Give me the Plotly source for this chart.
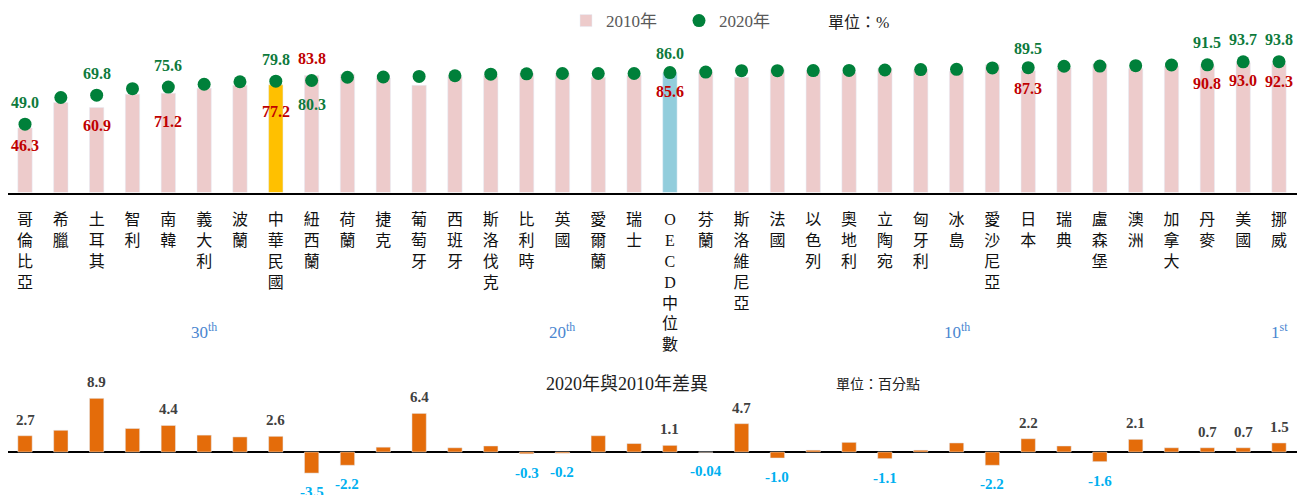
import plotly.graph_objects as go

countries = ["哥倫比亞", "希臘", "土耳其", "智利", "南韓", "義大利", "波蘭", "中華民國", "紐西蘭",
             "荷蘭", "捷克", "葡萄牙", "西班牙", "斯洛伐克", "比利時", "英國", "愛爾蘭", "瑞士",
             "OECD中位數", "芬蘭", "斯洛維尼亞", "法國", "以色列", "奧地利", "立陶宛", "匈牙利",
             "冰島", "愛沙尼亞", "日本", "瑞典", "盧森堡", "澳洲", "加拿大", "丹麥", "美國", "挪威"]

val_2010 = [46.3, 64.5, 60.9, 70.5, 71.2, 74.8, 76.9, 77.2, 83.8, 84.8, 82.0, 76.8, 83.0, 83.8,
            85.4, 85.5, 82.6, 83.9, 85.6, 86.3, 82.6, 88.3, 87.1, 85.9, 88.9, 87.8, 86.8, 91.5,
            87.3, 89.5, 92.2, 88.8, 90.7, 90.8, 93.0, 92.3]

val_2020 = [49.0, 68.1, 69.8, 74.4, 75.6, 77.6, 79.4, 79.8, 80.3, 82.6, 82.8, 83.2, 83.7, 84.8,
            85.1, 85.3, 85.3, 85.3, 86.0, 86.3, 87.3, 87.3, 87.4, 87.5, 87.8, 88.1, 88.3, 89.3,
            89.5, 90.5, 90.6, 90.9, 91.4, 91.5, 93.7, 93.8]

diff = [2.7, 3.6, 8.9, 3.9, 4.4, 2.8, 2.5, 2.6, -3.5, -2.2, 0.8, 6.4, 0.7, 1.0, -0.3, -0.2,
        2.7, 1.4, 1.1, -0.04, 4.7, -1.0, 0.3, 1.6, -1.1, 0.3, 1.5, -2.2, 2.2, 1.0, -1.6, 2.1,
        0.7, 0.7, 0.7, 1.5]

labeled_countries = ["哥倫比亞", "土耳其", "南韓", "中華民國", "紐西蘭", "OECD中位數", "日本",
                     "丹麥", "美國", "挪威"]
diff_labeled = ["哥倫比亞", "土耳其", "南韓", "中華民國", "紐西蘭", "荷蘭", "葡萄牙", "比利時",
                "英國", "OECD中位數", "芬蘭", "斯洛維尼亞", "法國", "立陶宛", "愛沙尼亞", "日本",
                "盧森堡", "澳洲", "丹麥", "美國", "挪威"]
rank_labels = {"義大利": "30<sup>th</sup>", "英國": "20<sup>th</sup>",
               "冰島": "10<sup>th</sup>", "挪威": "1<sup>st</sup>"}

# ---- styles ----
PINK = "#EDCBCB"
HIGHLIGHT = {"中華民國": "#FFC000", "OECD中位數": "#92CDDC"}
GREEN = "#00803A"
GREEN_TXT = "#0E7A3C"
RED_TXT = "#C00000"
ORANGE = "#E46C0A"
NEG_TXT = "#00B0F0"
POS_TXT = "#404040"
RANK_C = "#4A86D0"
SERIF = "Liberation Serif, Noto Sans CJK TC, serif"

green_shift = {"紐西蘭": -24, "OECD中位數": 19, "日本": 19}
red_shift = {"紐西蘭": 17, "南韓": -28, "中華民國": -27}

# page body has an 8px margin: lay out in screen pixels and convert
OFF = 8
W, H = 1306 - OFF, 495 - OFF


def px(x):
    return (x - OFF) / W


def py(y):
    return 1 - (y - OFF) / H


n = len(countries)
first_x, last_x = 25.0, 1279.0
step = (last_x - first_x) / (n - 1)
left_px, right_px = OFF, 1297.0
x_range = [(left_px - first_x) / step, (right_px - first_x) / step]
xdom = [px(left_px), px(right_px)]

top_base = 192.5
scale_top = 1.395
bot_base = 452.0
bot_top = 380.0
scale_bot = 6.03


def vertical(name):
    if name.startswith("OECD"):
        chars = list("OECD") + list(name[4:])
    else:
        chars = list(name)
    return "<br>".join(chars)


bar_colors = [HIGHLIGHT.get(c, PINK) for c in countries]

fig = go.Figure()
fig.add_trace(go.Bar(x=countries, y=val_2010, name="2010年", marker=dict(color=bar_colors),
                     width=0.4, xaxis="x", yaxis="y"))
fig.add_trace(go.Scatter(x=countries, y=val_2020, name="2020年", mode="markers",
                         marker=dict(color=GREEN, size=13), xaxis="x", yaxis="y"))
fig.add_trace(go.Bar(x=countries, y=diff, marker=dict(color=ORANGE), width=0.4,
                     showlegend=False, xaxis="x2", yaxis="y2"))

ann = []
for c, a, b in zip(countries, val_2010, val_2020):
    if c in labeled_countries:
        ann.append(dict(x=c, y=b, xref="x", yref="y", text=f"<b>{b:.1f}</b>", showarrow=False,
                        yshift=green_shift.get(c, 22),
                        font=dict(family=SERIF, size=16, color=GREEN_TXT)))
        ann.append(dict(x=c, y=a, xref="x", yref="y", text=f"<b>{a:.1f}</b>", showarrow=False,
                        yshift=red_shift.get(c, -18),
                        font=dict(family=SERIF, size=16, color=RED_TXT)))

for c, d in zip(countries, diff):
    if c in diff_labeled:
        txt = f"{d:.2f}" if abs(d) < 0.1 else f"{d:.1f}"
        ann.append(dict(x=c, y=d, xref="x2", yref="y2", text=f"<b>{txt}</b>", showarrow=False,
                        yshift=16 if d > 0 else -19,
                        font=dict(family=SERIF, size=15, color=POS_TXT if d > 0 else NEG_TXT)))

for c, t in rank_labels.items():
    ann.append(dict(x=c, y=py(331), xref="x", yref="paper", text=t, showarrow=False,
                    font=dict(family=SERIF, size=17, color=RANK_C)))

ann.append(dict(x=px(826), y=py(12), xref="paper", yref="paper", xanchor="left",
                text="單位：%", showarrow=False,
                font=dict(family=SERIF, size=16, color="#222222")))
ann.append(dict(x=px(627), y=py(396), xref="paper", yref="paper",
                text="2020年與2010年差異", showarrow=False,
                font=dict(family=SERIF, size=18, color="#222222")))
ann.append(dict(x=px(834), y=py(394), xref="paper", yref="paper", xanchor="left",
                text="單位：百分點", showarrow=False,
                font=dict(family=SERIF, size=14, color="#222222")))

fig.update_layout(
    width=W, height=H,
    margin=dict(l=0, r=0, t=0, b=0, autoexpand=False),
    paper_bgcolor="white", plot_bgcolor="white",
    barmode="overlay",
    showlegend=True,
    legend=dict(orientation="h", x=px(566), xanchor="left", y=py(21), yanchor="middle",
                font=dict(family=SERIF, size=17, color="#595959"),
                bgcolor="rgba(0,0,0,0)", itemwidth=30, entrywidth=68,
                traceorder="normal"),
    xaxis=dict(domain=xdom, anchor="y", type="category", range=x_range,
               showline=True, linecolor="black", automargin=False,
               linewidth=1.5, ticks="", showgrid=False, tickangle=0,
               tickmode="array", tickvals=countries, ticktext=[vertical(c) for c in countries],
               tickfont=dict(family=SERIF, size=16, color="#111111"),
               ticklabelstandoff=12),
    yaxis=dict(domain=[py(top_base), 1], anchor="x", range=[0, (top_base - OFF) / scale_top],
               visible=False, showgrid=False, automargin=False),
    xaxis2=dict(domain=xdom, anchor="y2", type="category", range=x_range,
                visible=False, showgrid=False, automargin=False),
    yaxis2=dict(domain=[0, py(bot_top)], anchor="x2",
                range=[-(495 - bot_base) / scale_bot, (bot_base - bot_top) / scale_bot],
                showgrid=False, showticklabels=False, zeroline=True, zerolinecolor="black",
                zerolinewidth=1.5, showline=False, automargin=False),
    annotations=ann,
)

fig.write_html("out.html")
